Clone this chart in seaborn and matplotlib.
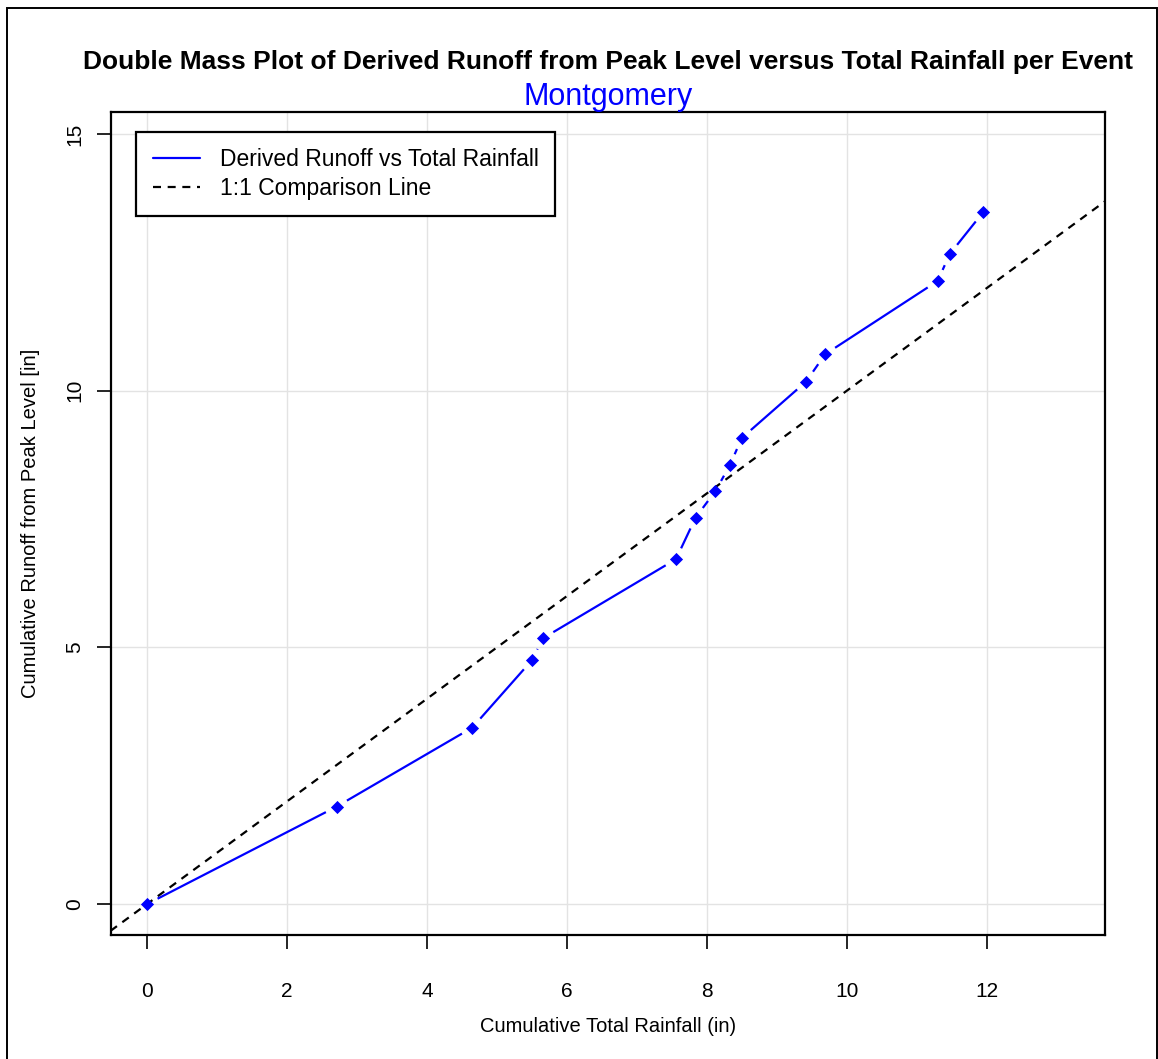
import numpy as np
import pandas as pd
import matplotlib
matplotlib.use("Agg")
import matplotlib.pyplot as plt
import matplotlib.patches as mpatches
import seaborn as sns

# ---- data ----
rainfall = [0.0, 2.71, 4.65, 5.50, 5.66, 7.56, 7.84, 8.12, 8.33, 8.50, 9.42, 9.69, 11.30, 11.47, 11.95]
runoff = [0.0, 1.90, 3.44, 4.75, 5.18, 6.72, 7.53, 8.04, 8.55, 9.08, 10.18, 10.71, 12.14, 12.66, 13.48]
x_ticks = [0, 2, 4, 6, 8, 10, 12]
y_ticks = [0, 5, 10, 15]
title = "Double Mass Plot of Derived Runoff from Peak Level versus Total Rainfall per Event"
subtitle = "Montgomery"
legend_labels = ["Derived Runoff vs Total Rainfall", "1:1 Comparison Line"]

df = pd.DataFrame({"rain": rainfall, "runoff": runoff})

sns.set_style("white")
plt.rcParams["font.family"] = ["Liberation Sans", "DejaVu Sans"]
plt.rcParams["text.color"] = "black"
plt.rcParams["axes.labelcolor"] = "black"
plt.rcParams["xtick.color"] = "black"
plt.rcParams["ytick.color"] = "black"

W, H = 1158, 1059
fig = plt.figure(figsize=(W / 100, H / 100), dpi=100)
ax = fig.add_axes([110.5 / W, 1 - 935 / H, (1105 - 110.5) / W, (935 - 112) / H])

xlim = (-0.52, 13.69)
ylim = (-0.60, 15.43)
ax.set_xlim(*xlim)
ax.set_ylim(*ylim)

# grid
for t in x_ticks:
    ax.axvline(t, color="#e3e3e3", lw=1.0, zorder=0)
for t in y_ticks:
    ax.axhline(t, color="#e3e3e3", lw=1.0, zorder=0)

# 1:1 line spanning the axes
ax.axline((0, 0), slope=1, color="black", lw=1.6, linestyle=(0, (3.6, 3.0)), zorder=2)

# type="b": segments with gaps around points
fig.canvas.draw()
pts = ax.transData.transform(np.column_stack([df["rain"], df["runoff"]]))
gap = 12.0
inv = ax.transData.inverted()
for i in range(len(pts) - 1):
    p0, p1 = pts[i], pts[i + 1]
    d = p1 - p0
    L = np.hypot(*d)
    if L <= 2 * gap:
        continue
    u = d / L
    a = inv.transform(p0 + u * gap)
    b = inv.transform(p1 - u * gap)
    ax.plot([a[0], b[0]], [a[1], b[1]], color="blue", lw=1.6, solid_capstyle="butt", zorder=3)

sns.scatterplot(data=df, x="rain", y="runoff", ax=ax, marker="D", s=45, color="blue",
                edgecolor="blue", linewidth=0, zorder=4, legend=False)

ax.set_xticks(x_ticks)
ax.set_yticks(y_ticks)
ax.set_xticklabels([str(t) for t in x_ticks])
ax.set_yticklabels([str(t) for t in y_ticks], rotation=90, va="center")
ax.tick_params(axis="both", direction="out", length=10, width=1.2, color="black",
               labelsize=15, bottom=True, left=True)
ax.tick_params(axis="x", pad=24)
ax.tick_params(axis="y", pad=9)
for s in ax.spines.values():
    s.set_color("black")
    s.set_linewidth(1.6)

ax.set_xlabel("Cumulative Total Rainfall (in)", fontsize=14.5, labelpad=11)
ax.set_ylabel("Cumulative Runoff from Peak Level [in]", fontsize=14.5, labelpad=18)

fig.text(608 / W, 1 - 62 / H, title, ha="center", va="center", fontsize=19, fontweight="bold")
fig.text(608 / W, 1 - 97 / H, subtitle, ha="center", va="center", fontsize=22, color="blue")

handles = [
    plt.Line2D([], [], color="blue", lw=1.6),
    plt.Line2D([], [], color="black", lw=1.6, linestyle=(0, (3.6, 3.0))),
]
leg = ax.legend(handles, legend_labels, loc="upper left", bbox_to_anchor=(0.026, 0.976),
                borderaxespad=0, fancybox=False, framealpha=1, edgecolor="black",
                fontsize=16.5, handlelength=2.05, handletextpad=0.87, borderpad=0.72,
                labelspacing=0.25)
leg.get_frame().set_linewidth(1.6)

# outer border
fig.patches.append(mpatches.Rectangle((7 / W, -0.02), (1157 - 7) / W, 1 - 8 / H + 0.02,
                                      transform=fig.transFigure, fill=False,
                                      edgecolor="black", lw=1.4))

fig.savefig("out.png", dpi=100)
